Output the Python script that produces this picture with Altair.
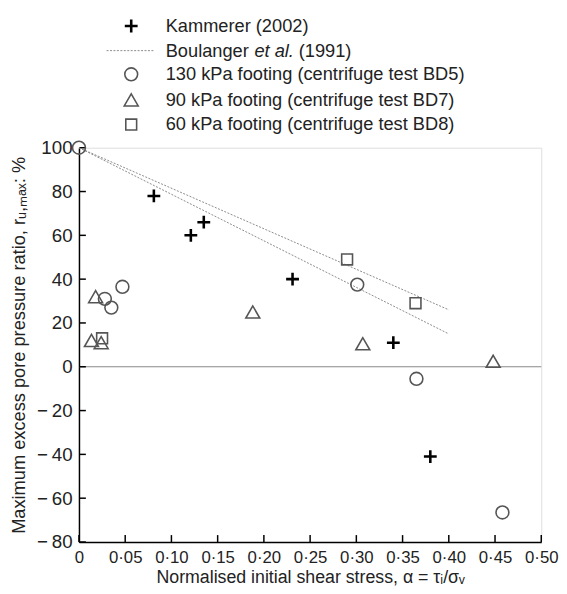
import altair as alt
import pandas as pd

# ---- data ----
kam_x = [0.081, 0.121, 0.135, 0.231, 0.340, 0.380]
kam_y = [78, 60, 66, 40, 11, -41]

bd5_x = [0.0, 0.028, 0.035, 0.047, 0.301, 0.365, 0.458]
bd5_y = [100, 31, 27, 36.5, 37.5, -5.5, -66.5]

bd7_x = [0.018, 0.0135, 0.024, 0.188, 0.307, 0.448]
bd7_y = [32, 12, 11, 25, 10.5, 2.5]

bd8_x = [0.025, 0.290, 0.364]
bd8_y = [13, 49, 29]

boul_x = [0.0, 0.40]
boul_upper = [100, 26]
boul_lower = [100, 15]

x_ticks = [0, 0.05, 0.10, 0.15, 0.20, 0.25, 0.30, 0.35, 0.40, 0.45, 0.50]
y_ticks = [-80, -60, -40, -20, 0, 20, 40, 60, 80, 100]

legend_labels = ["Kammerer (2002)", "Boulanger", "130 kPa footing (centrifuge test BD5)",
                 "90 kPa footing (centrifuge test BD7)", "60 kPa footing (centrifuge test BD8)"]

W, H = 469, 400
FONT = "Liberation Sans"
GREY = "#555555"
TXT = "#222222"

xs = alt.Scale(domain=[0, 0.5], nice=False)
ys = alt.Scale(domain=[-80, 100], nice=False)

x_axis = alt.Axis(values=x_ticks, grid=False, ticks=False, domainColor="black", domainWidth=1.5,
                  labelExpr="datum.value == 0 ? '0' : replace(format(datum.value, '.2f'), '.', '·')",
                  labelFontSize=17, labelPadding=8, labelColor=TXT, labelFont=FONT,
                  labelOverlap=False, labelFlush=False,
                  title="Normalised initial shear stress, α = τᵢ/σᵥ", titleFontSize=18,
                  titleFontWeight="normal", titleFont=FONT, titlePadding=3, titleColor=TXT)
y_axis = alt.Axis(values=y_ticks, grid=False, ticks=False, domainColor="black", domainWidth=1.5,
                  labelExpr="datum.value < 0 ? '−\u2009' + abs(datum.value) : '' + datum.value",
                  labelFontSize=19, labelPadding=7, labelColor=TXT, labelFont=FONT,
                  labelOverlap=False, labelFlush=False,
                  title="Maximum excess pore pressure ratio, rᵤ,ₘₐₓ: %", titleFontSize=18.5,
                  titleFontWeight="normal", titleFont=FONT, titlePadding=8, titleColor=TXT)

df_kam = pd.DataFrame({"x": kam_x, "y": kam_y})
df_bd5 = pd.DataFrame({"x": bd5_x, "y": bd5_y})
df_bd7 = pd.DataFrame({"x": bd7_x, "y": bd7_y})
df_bd8 = pd.DataFrame({"x": bd8_x, "y": bd8_y})
df_bu = pd.DataFrame({"x": boul_x, "y": boul_upper})
df_bl = pd.DataFrame({"x": boul_x, "y": boul_lower})
df_xt = pd.DataFrame({"x": x_ticks})
df_yt = pd.DataFrame({"y": y_ticks})
one = pd.DataFrame({"a": [0]})

PLUS = "M-1,0L1,0M0,-1L0,1"

# zero line (also carries the y axis)
zero = alt.Chart(one).transform_calculate(v="0").mark_rule(color="#888888", strokeWidth=1.2).encode(
    y=alt.Y("v:Q", scale=ys, axis=y_axis), x=alt.value(0), x2=alt.value(W))
# inward ticks
tick_x = alt.Chart(df_xt).mark_rule(color="black", strokeWidth=1.5).encode(
    x=alt.X("x:Q", scale=xs, axis=x_axis), y=alt.value(H), y2=alt.value(H - 7))
tick_y = alt.Chart(df_yt).mark_rule(color="black", strokeWidth=1.5).encode(
    y=alt.Y("y:Q", scale=ys), x=alt.value(0), x2=alt.value(7))

line_style = dict(color="#8a8a8a", strokeWidth=1, strokeDash=[2, 1.5])
bu = alt.Chart(df_bu).mark_line(**line_style).encode(x=alt.X("x:Q", scale=xs), y=alt.Y("y:Q", scale=ys))
bl = alt.Chart(df_bl).mark_line(**line_style).encode(x=alt.X("x:Q", scale=xs), y=alt.Y("y:Q", scale=ys))

kam_style = dict(shape=PLUS, size=169, stroke="black", strokeWidth=2.6, filled=False, opacity=1)
bd5_style = dict(shape="circle", size=170, stroke=GREY, strokeWidth=1.6, filled=False, opacity=1)
bd7_style = dict(shape="triangle-up", size=200, stroke=GREY, strokeWidth=1.6, filled=False, opacity=1)
bd8_style = dict(shape="square", size=121, stroke=GREY, strokeWidth=1.6, filled=False, opacity=1)

def pts(df, style):
    return alt.Chart(df).mark_point(**style).encode(x=alt.X("x:Q", scale=xs), y=alt.Y("y:Q", scale=ys))

kam = pts(df_kam, kam_style)
bd5 = pts(df_bd5, bd5_style)
bd7 = pts(df_bd7, bd7_style)
bd8 = pts(df_bd8, bd8_style)

# ---- legend (drawn above the plot area) ----
SX, TX = 53, 88
rows = [-123.5, -98.5, -74.5, -48.5, -23.5]
leg = []
for style, r in [(kam_style, rows[0]), (bd5_style, rows[2]), (bd7_style, rows[3]), (bd8_style, rows[4])]:
    leg.append(alt.Chart(one).mark_point(**style).encode(x=alt.value(SX), y=alt.value(r)))
leg.append(alt.Chart(one).mark_rule(**line_style).encode(x=alt.value(28), x2=alt.value(77), y=alt.value(rows[1])))
txt = dict(font=FONT, fontSize=18.5, align="left", baseline="middle", color=TXT)
for i, lab in enumerate(legend_labels):
    leg.append(alt.Chart(one).mark_text(text=lab, **txt).encode(x=alt.value(TX), y=alt.value(rows[i])))
leg.append(alt.Chart(one).mark_text(text="et al.", fontStyle="italic", **txt).encode(x=alt.value(TX + 90), y=alt.value(rows[1])))
leg.append(alt.Chart(one).mark_text(text="(1991)", **txt).encode(x=alt.value(TX + 135), y=alt.value(rows[1])))

chart = alt.layer(zero, tick_x, tick_y, bu, bl, bd5, bd7, bd8, kam, *leg).properties(
    width=W, height=H,
    autosize=alt.AutoSizeParams(type="none"),
    padding={"left": 72, "top": 137.5, "right": 18, "bottom": 48}
).configure_view(stroke=None).configure(background="white")

chart.save("out.html", embed_options={"renderer": "svg", "actions": False})
